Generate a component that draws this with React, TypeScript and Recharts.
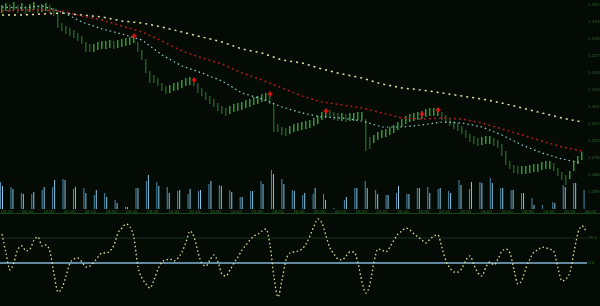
import { ComposedChart, BarChart, Bar, Line, Scatter, XAxis, YAxis, ZAxis, ReferenceLine, Cell } from 'recharts';

// price candles (one per bar, 146 bars)
const highs = [
  205, 207, 206, 208, 205, 207, 204, 206, 208, 205, 206, 207, 205, 202, 198, 187, 184, 182, 180, 177,
  174, 168, 166, 166, 168, 169, 169, 170, 169, 170, 171, 172, 173, 175, 168, 160, 151, 139, 135, 132,
  127, 124, 125, 127, 128, 130, 132, 133, 132, 127, 122, 118, 114, 111, 107, 104, 102, 104, 106, 107,
  108, 110, 111, 113, 114, 116, 117, 114, 106, 86, 83, 82, 84, 86, 87, 88, 89, 90, 92, 94,
  98, 101, 100, 98, 97, 97, 96, 97, 97, 98, 98, 91, 73, 75, 78, 80, 81, 83, 85, 88,
  91, 94, 96, 97, 98, 99, 101, 102, 102, 102, 98, 95, 92, 89, 87, 84, 80, 76, 74, 72,
  73, 74, 74, 72, 70, 66, 59, 49, 45, 44, 44, 44, 45, 46, 46, 48, 49, 49, 47, 42,
  38, 35, 39, 49, 54, 58,
];
const lows = [
  197, 199, 198, 200, 197, 199, 196, 198, 200, 197, 198, 199, 197, 194, 182, 179, 176, 174, 172, 169,
  166, 158, 158, 158, 160, 161, 161, 162, 161, 162, 163, 164, 165, 167, 158, 150, 137, 127, 127, 124,
  119, 116, 117, 119, 120, 122, 124, 125, 124, 117, 114, 110, 106, 103, 99, 96, 94, 96, 98, 99,
  100, 102, 103, 105, 106, 108, 109, 106, 78, 78, 75, 74, 76, 78, 79, 80, 81, 82, 84, 86,
  90, 93, 92, 90, 89, 89, 88, 89, 89, 90, 90, 59, 61, 67, 70, 72, 73, 75, 77, 80,
  83, 86, 88, 89, 90, 91, 93, 94, 94, 94, 90, 87, 84, 81, 79, 76, 72, 68, 66, 64,
  65, 66, 66, 64, 62, 54, 45, 41, 37, 36, 36, 36, 37, 38, 38, 40, 41, 41, 39, 34,
  30, 25, 31, 39, 46, 50,
];

// moving averages, sampled every 5 bars
const maStep = 5;
const maSlow = [195, 195, 196, 197, 195, 193, 189, 187, 183, 178, 173, 168, 161, 157, 150, 147, 141, 136, 132, 126, 122, 120, 117, 114, 111, 107, 102, 97, 92, 88];
const maMid = [199, 200, 200, 199, 194, 190, 184, 178, 169, 159, 152, 146, 137, 130, 122, 114, 108, 105, 102, 97, 92, 91, 92, 91, 87, 81, 75, 69, 63, 59];
const maFast = [203, 202, 204, 198, 188, 181, 176, 170, 155, 144, 137, 129, 117, 111, 103, 97, 93, 92, 89, 83, 83, 85, 88, 87, 83, 75, 65, 57, 51, 47];

// fractal / signal crosses
const signalBars = [33, 48, 67, 81, 105, 109];
const signalPrices = [174, 130, 116, 99, 96, 100];

const priceTicks = [205, 197, 188, 180, 171, 163, 154, 146, 137, 129, 120, 112, 103, 95, 86, 78, 69, 61, 52, 44, 35, 27, 18];

// volume, two bars per period
const volUp = [27, 22, 16, 15, 19, 22, 30, 20, 21, 14, 16, 9, 2, 21, 28, 27, 22, 18, 15, 18, 25, 24, 19, 12, 18, 28, 39, 30, 19, 14, 15, 15, 1, 9, 21, 28, 19, 14, 16, 15, 21, 22, 20, 18, 29, 20, 27, 31, 21, 19, 16, 11, 4, 7, 24, 26, 19];
const volDown = [23, 20, 15, 17, 22, 29, 29, 22, 16, 19, 12, 6, 2, 21, 34, 23, 16, 19, 20, 19, 28, 23, 17, 12, 18, 25, 35, 25, 18, 16, 21, 9, 0, 12, 21, 21, 15, 14, 23, 15, 21, 16, 21, 16, 24, 27, 26, 26, 21, 19, 16, 4, 0, 6, 22, 26, 0];
const periods = [
  '00:00', '04:00', '08:00', '12:00', '16:00', '20:00', '00:00', '04:00', '08:00', '12:00',
  '16:00', '20:00', '00:00', '04:00', '08:00', '12:00', '16:00', '20:00', '00:00', '04:00',
  '08:00', '12:00', '16:00', '20:00', '00:00', '04:00', '08:00', '12:00', '16:00', '20:00',
  '00:00', '04:00', '08:00', '12:00', '16:00', '20:00', '00:00', '04:00', '08:00', '12:00',
  '16:00', '20:00', '00:00', '04:00', '08:00', '12:00', '16:00', '20:00', '00:00', '04:00',
  '08:00', '12:00', '16:00', '20:00', '00:00', '04:00', '08:00',
];

// oscillator, one value per bar
const oscValues = [
  29, 10, -7, 1, 14, 17, 12, 14, 23, 26, 17, 18, 11, -11, -29, -25, -13, 0, 4, 5,
  1, -4, -3, 1, 6, 10, 10, 12, 18, 30, 35, 39, 36, 25, -4, -15, -21, -25, -17, -6,
  1, 3, 4, 2, 5, 11, 21, 32, 26, 11, -1, -3, 3, 8, 1, -11, -13, -7, 0, 6,
  13, 18, 23, 27, 29, 32, 34, 18, -14, -34, -17, 3, 10, 11, 12, 14, 19, 27, 37, 44,
  40, 27, 15, 9, 4, 3, 7, 11, 11, 0, -19, -30, -21, 1, 14, 13, 11, 16, 23, 29,
  32, 35, 33, 29, 26, 23, 20, 24, 27, 28, 15, 2, -5, -9, -9, -5, 3, 7, -2, -10,
  -13, -4, 1, -2, 4, 12, 14, 10, -7, -21, -17, -5, 4, 11, 13, 16, 15, 14, 11, -5,
  -18, -16, -9, 11, 30, 37, 32,
];
const oscLevels = [0, 25];

const BG = '#040a04';
const AXIS_TEXT = '#2c6e2c';
const FONT = 'DejaVu Sans';
const xDomain = [-0.5, 146.25];

export default function App() {
  const candles = highs.map((h, i) => {
    const row: any = { i, range: [lows[i], h] };
    if (i % maStep === 0) {
      const k = i / maStep;
      row.slow = maSlow[k];
      row.mid = maMid[k];
      row.fast = maFast[k];
    }
    return row;
  });
  const signals = signalBars.map((i, k) => ({ i, price: signalPrices[k] }));
  const volumes = periods.map((p, k) => ({ p, up: volUp[k], down: volDown[k] }));
  const osc = oscValues.map((v, i) => ({ i, v }));

  const priceTick = { fill: AXIS_TEXT, fontSize: 4, fontFamily: FONT };

  return (
    <div style={{ position: 'absolute', left: 0, top: 0, width: 600, height: 306, background: BG, overflow: 'hidden' }}>
      {/* volume strip */}
      <div style={{ position: 'absolute', left: 0, top: 170 }}>
        <BarChart width={600} height={45} data={volumes} margin={{ top: 0, right: 10, bottom: 0, left: -4 }} barGap={1}>
          <XAxis
            dataKey="p"
            interval={1}
            height={6}
            axisLine={false}
            tickLine={false}
            tickSize={0}
            tickMargin={1}
            tick={{ fill: AXIS_TEXT, fontSize: 4, fontFamily: FONT, textAnchor: 'start' }}
          />
          <YAxis hide domain={[0, 39]} />
          <Bar dataKey="up" barSize={1} fill="#4f8db0" isAnimationActive={false} />
          <Bar dataKey="down" barSize={1} fill="#8cc6e4" isAnimationActive={false} />
        </BarChart>
      </div>

      {/* price panel */}
      <div style={{ position: 'absolute', left: 0, top: 0 }}>
        <ComposedChart width={600} height={210} data={candles} margin={{ top: 0, right: 0, bottom: 0, left: 0 }}>
          <XAxis dataKey="i" type="number" domain={xDomain} hide allowDataOverflow />
          <YAxis
            orientation="right"
            width={13}
            domain={[0, 210]}
            ticks={priceTicks}
            axisLine={false}
            tickLine={false}
            tickSize={0}
            tickMargin={1}
            tick={priceTick}
            tickFormatter={(v: number) => (1.25 + v * 0.0005).toFixed(3)}
          />
          <ZAxis range={[14, 14]} />
          <Bar dataKey="range" barSize={1.5} isAnimationActive={false}>
            {candles.map((c, i) => {
              const prev = i > 0 ? (highs[i - 1] + lows[i - 1]) / 2 : 0;
              const up = (highs[i] + lows[i]) / 2 >= prev;
              return <Cell key={i} fill={up ? '#2a9a2a' : '#1a5e1a'} />;
            })}
          </Bar>
          <Line dataKey="slow" stroke="#e6e6a6" strokeWidth={1.5} strokeDasharray="2 4" dot={false} activeDot={false} connectNulls isAnimationActive={false} />
          <Line dataKey="mid" stroke="#b01c1c" strokeWidth={1.5} strokeDasharray="2 3" dot={false} activeDot={false} connectNulls isAnimationActive={false} />
          <Line dataKey="fast" stroke="#8fd2d2" strokeWidth={1.2} strokeDasharray="1.5 3" dot={false} activeDot={false} connectNulls isAnimationActive={false} />
          <Scatter data={signals} dataKey="price" shape="cross" fill="#e81010" isAnimationActive={false} />
        </ComposedChart>
      </div>

      {/* panel separator */}
      <div style={{ position: 'absolute', left: 0, top: 213, width: 600, height: 1, background: '#164616' }} />

      {/* oscillator panel */}
      <div style={{ position: 'absolute', left: 0, top: 214 }}>
        <ComposedChart width={600} height={92} data={osc} margin={{ top: 0, right: 0, bottom: 0, left: 0 }}>
          <XAxis dataKey="i" type="number" domain={xDomain} hide allowDataOverflow />
          <YAxis
            orientation="right"
            width={13}
            domain={[-43, 49]}
            ticks={oscLevels}
            axisLine={false}
            tickLine={false}
            tickSize={0}
            tickMargin={1}
            tick={priceTick}
            tickFormatter={(v: number) => v.toFixed(1)}
          />
          <ReferenceLine y={25} stroke="#17301a" strokeWidth={1} />
          <ReferenceLine y={0} stroke="#80b6d6" strokeWidth={1.5} />
          <Line dataKey="v" type="monotone" stroke="#e2e296" strokeWidth={1.3} strokeDasharray="1.5 2.5" dot={false} activeDot={false} isAnimationActive={false} />
        </ComposedChart>
      </div>
    </div>
  );
}
